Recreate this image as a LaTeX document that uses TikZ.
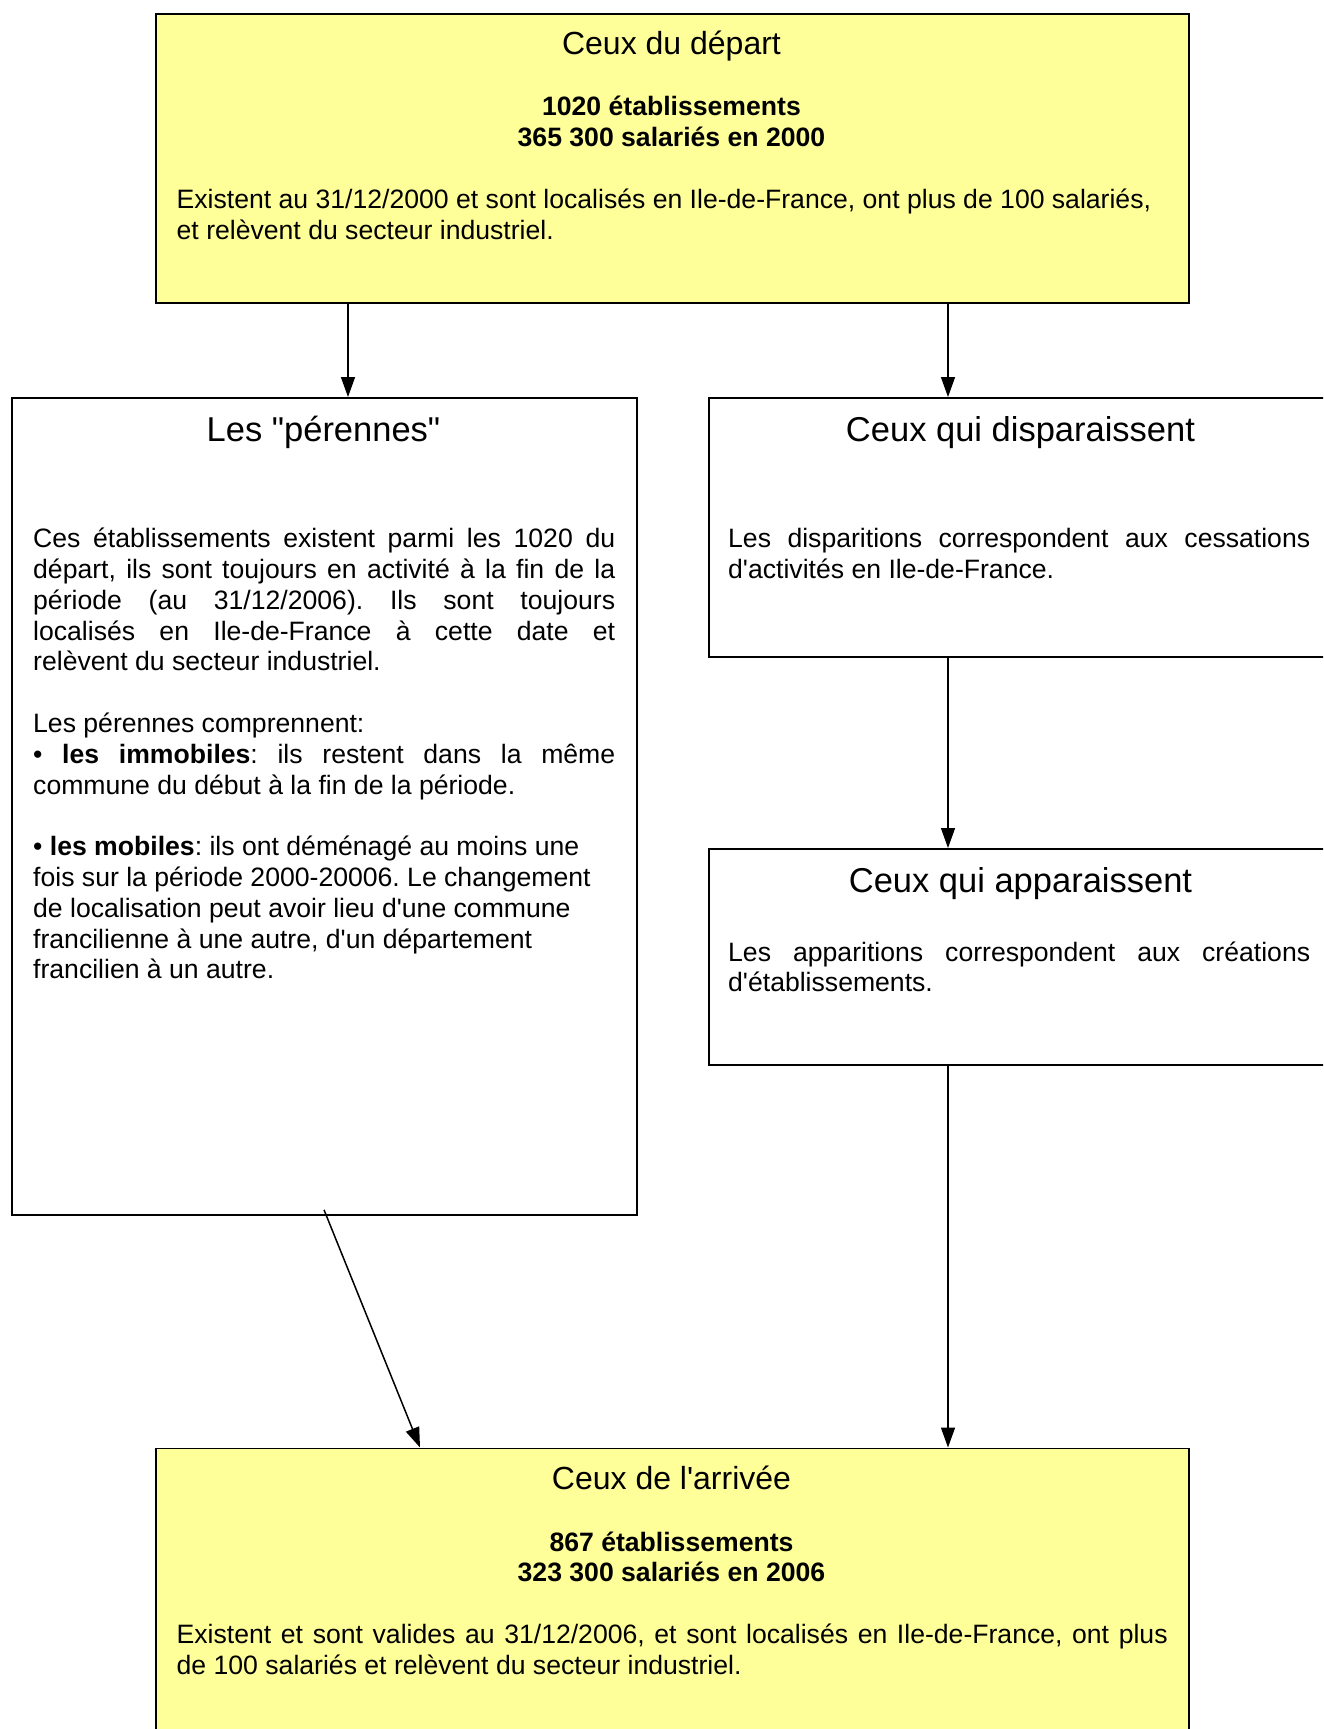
\documentclass[tikz,border=0pt]{standalone}
\usepackage{fontspec}
\newfontfamily\arial{Liberation Sans}
\usetikzlibrary{arrows.meta}
\definecolor{boxyellow}{RGB}{255,255,153}
\newcommand\rs{\spaceskip=0pt\xspaceskip=0pt\frenchspacing}
\newcommand\jl[2][582pt]{\makebox[#1][s]{\rs #2}}
\newcommand\bodyfont{\arial\fontsize{26.6}{30.8}\selectfont}
\frenchspacing
\begin{document}
\begin{tikzpicture}[x=1pt,y=-1pt,
 box/.style={draw=black, line width=1.8pt, rectangle, inner sep=0, anchor=north west},
 ttl/.style={font=\arial\fontsize{32}{38}\selectfont, anchor=base, inner sep=0},
 ttlb/.style={font=\arial\fontsize{34.5}{40}\selectfont, anchor=base, inner sep=0},
 para/.style={font=\bodyfont, anchor=north west, inner sep=0, align=left, text width=#1},
 ctr/.style={font=\bodyfont\bfseries, anchor=north, inner sep=0, align=center},
 arr/.style={line width=1.5pt, -{Triangle[length=20pt,width=14pt]}}]
\useasboundingbox (0,0) rectangle (1323,1729);
\clip (0,0) rectangle (1323,1729);
\fill[white] (0,0) rectangle (1323,1729);

% boxes
\node[box, fill=boxyellow, minimum width=1033, minimum height=289] (depart) at (155,13) {};
\node[box, minimum width=625, minimum height=817] (perennes) at (11,397) {};
\node[box, minimum width=625, minimum height=259] (disp) at (708,397) {};
\node[box, minimum width=625, minimum height=216] (appar) at (708,848) {};
\node[box, fill=boxyellow, minimum width=1033, minimum height=320] (arrivee) at (155,1447.5) {};

% top box text
\node[ttl] (tdep) at (671.5,54) {Ceux du départ};
\node[ctr] (ndep) at (671.5,93.9) {\rs\strut 1020 établissements\\365 300 salariés en 2000};
\node[para=995pt] (bdep) at (176.5,187) {\rs\strut Existent au 31/12/2000 et sont localisés en Ile-de-France, ont plus de 100 salariés,\\et relèvent du secteur industriel.};

% left box text
\node[ttlb] (tper) at (323.5,441) {Les "pérennes"};
\node[para=590pt] (bper) at (33,526) {\rs\strut\jl{Ces établissements existent parmi les 1020 du}\\
\jl{départ, ils sont toujours en activité à la fin de la}\\
\jl{période (au 31/12/2006). Ils sont toujours}\\
\jl{localisés en Ile-de-France à cette date et}\\
relèvent du secteur industriel.\\[30.8pt]
Les pérennes comprennent:\\
\jl{• \textbf{les immobiles}: ils restent dans la même}\\
commune du début à la fin de la période.\\[30.8pt]
• \textbf{les mobiles}: ils ont déménagé au moins une\\
fois sur la période 2000-20006. Le changement\\
de localisation peut avoir lieu d'une commune\\
francilienne à une autre, d'un département\\
francilien à un autre.};

% right boxes text
\node[ttlb] (tdis) at (1020.5,441) {Ceux qui disparaissent};
\node[para=590pt] (bdis) at (728,526) {\rs\strut\jl{Les disparitions correspondent aux cessations}\\d'activités en Ile-de-France.};
\node[ttlb] (tapp) at (1020.5,892) {Ceux qui apparaissent};
\node[para=590pt] (bapp) at (728,939.4) {\rs\strut\jl{Les apparitions correspondent aux créations}\\d'établissements.};

% bottom box text
\node[ttl] (tarr) at (671.5,1489) {Ceux de l'arrivée};
\node[ctr] (narr) at (671.5,1529.4) {\rs\strut 867 établissements\\323 300 salariés en 2006};
\node[para=1000pt] (barr) at (176.5,1621.8) {\rs\strut\jl[991pt]{Existent et sont valides au 31/12/2006, et sont localisés en Ile-de-France, ont plus}\\de 100 salariés et relèvent du secteur industriel.};

% connectors
\draw[arr] ([xshift=193pt]depart.south west) -- ([xshift=337pt]perennes.north west);
\draw[arr] ([xshift=793pt]depart.south west) -- ([xshift=240pt]disp.north west);
\draw[arr] ([xshift=240pt]disp.south west) -- ([xshift=240pt]appar.north west);
\draw[arr] ([xshift=240pt]appar.south west) -- ([xshift=793pt]arrivee.north west);
\draw[arr] ([xshift=313pt,yshift=6pt]perennes.south west) -- ([xshift=265pt]arrivee.north west);
\end{tikzpicture}
\end{document}
